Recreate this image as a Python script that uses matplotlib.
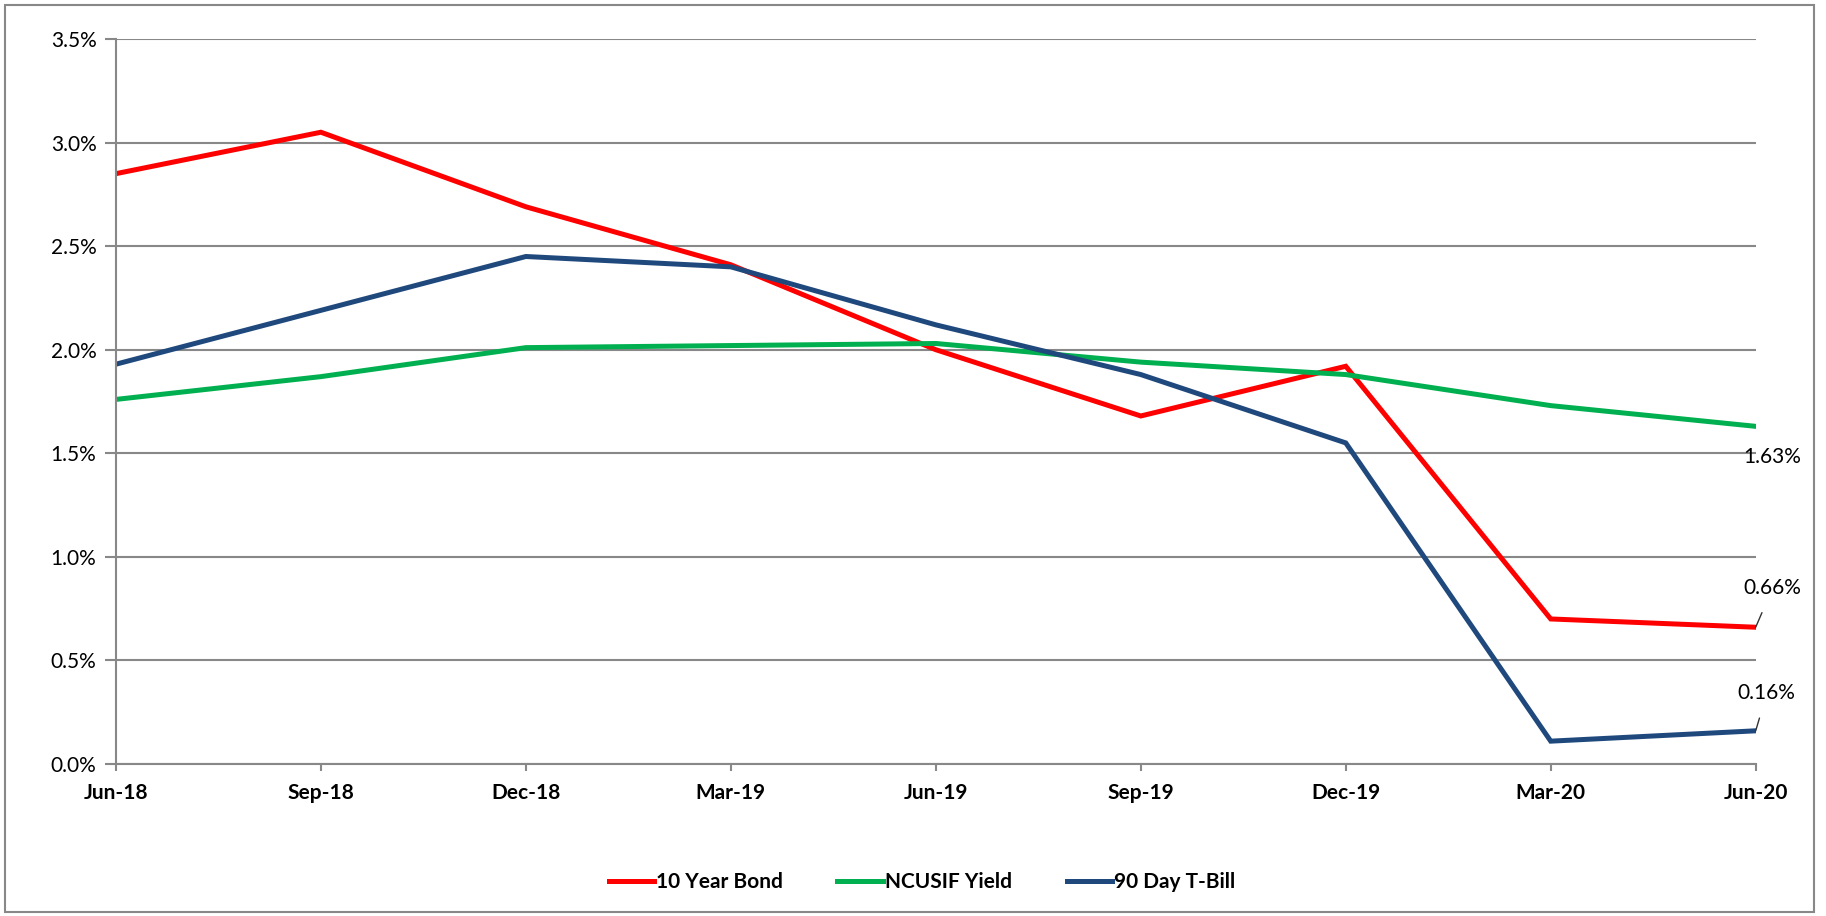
import matplotlib
matplotlib.use("Agg")
import matplotlib.pyplot as plt
from matplotlib.patches import Rectangle
from matplotlib.ticker import FuncFormatter

categories = ["Jun-18", "Sep-18", "Dec-18", "Mar-19", "Jun-19", "Sep-19", "Dec-19", "Mar-20", "Jun-20"]
bond_10yr = [2.85, 3.05, 2.69, 2.41, 2.00, 1.68, 1.92, 0.70, 0.66]
ncusif_yield = [1.76, 1.87, 2.01, 2.02, 2.03, 1.94, 1.88, 1.73, 1.63]
tbill_90d = [1.93, 2.19, 2.45, 2.40, 2.12, 1.88, 1.55, 0.11, 0.16]
y_ticks = [0.0, 0.5, 1.0, 1.5, 2.0, 2.5, 3.0, 3.5]

plt.rcParams['font.family'] = ['Lato', 'DejaVu Sans']

fig = plt.figure(figsize=(18.26, 9.16), dpi=100)
ax = fig.add_axes([0.0635, 0.166, 0.898, 0.7914])

x = list(range(len(categories)))
lw = 3.6
ax.plot(x, bond_10yr, color="#FF0000", lw=lw, label="10 Year Bond", solid_joinstyle="miter")
ax.plot(x, ncusif_yield, color="#00B050", lw=lw, label="NCUSIF Yield", solid_joinstyle="miter")
ax.plot(x, tbill_90d, color="#1F497D", lw=lw, label="90 Day T-Bill", solid_joinstyle="miter")

fs = 15
ax.set_xlim(0, len(categories) - 1)
ax.set_ylim(0, 3.5)
ax.set_yticks(y_ticks)
ax.yaxis.set_major_formatter(FuncFormatter(lambda v, p: f"{v:.1f}%"))
ax.set_xticks(x)
ax.set_xticklabels(categories, fontweight="bold", fontsize=fs)
ax.tick_params(axis="y", labelsize=fs, length=8, width=1.5, color="#888888", pad=6)
ax.tick_params(axis="x", length=5, width=1.5, color="#888888", pad=9)
ax.grid(axis="y", color="#888888", lw=1.5)
ax.set_axisbelow(True)
for s in ["top", "right"]:
    ax.spines[s].set_visible(False)
for s in ["left", "bottom"]:
    ax.spines[s].set_color("#888888")
    ax.spines[s].set_linewidth(1.5)

# End labels
last = len(categories) - 1
ax.annotate(f"{ncusif_yield[-1]:.2f}%", xy=(last, ncusif_yield[-1]),
            xytext=(12, -22), textcoords="offset points", ha="center", va="center",
            fontsize=fs, annotation_clip=False)
ax.annotate(f"{bond_10yr[-1]:.2f}%", xy=(last, bond_10yr[-1]),
            xytext=(12, 28), textcoords="offset points", ha="center", va="center",
            fontsize=fs, annotation_clip=False,
            arrowprops=dict(arrowstyle="-", color="#333333", lw=1, shrinkA=9, shrinkB=0))
ax.annotate(f"{tbill_90d[-1]:.2f}%", xy=(last, tbill_90d[-1]),
            xytext=(8, 27), textcoords="offset points", ha="center", va="center",
            fontsize=fs, annotation_clip=False,
            arrowprops=dict(arrowstyle="-", color="#333333", lw=1, shrinkA=9, shrinkB=0))

leg = fig.legend(loc="center", bbox_to_anchor=(0.505, 0.037), ncol=3, frameon=False,
                 fontsize=fs, handlelength=2.2, handletextpad=0.1, columnspacing=2.6)
for t in leg.get_texts():
    t.set_fontweight("bold")

fig.patches.append(Rectangle((0.003, 0.004), 0.9905, 0.99, transform=fig.transFigure,
                             fill=False, edgecolor="#888888", lw=1.5))

fig.savefig("out.png", dpi=100)
